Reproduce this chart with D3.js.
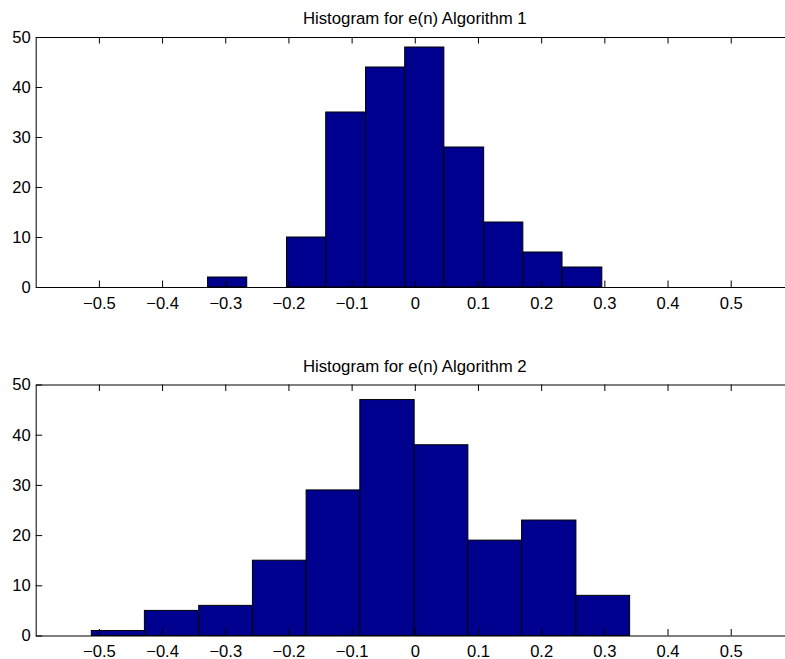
<!DOCTYPE html>
<html>
<head>
<meta charset="utf-8">
<script src="https://cdn.jsdelivr.net/npm/d3@7"></script>
<style>
  body { margin: 0; background: #fff; }
  svg { display: block; font-family: "Liberation Sans", Arial, Helvetica, sans-serif; }
  .tick line, .domain { stroke: #000; }
  .tick text { fill: #000; font-size: 16.6px; }
</style>
</head>
<body>
<svg width="785" height="659"></svg>
<script>
// bin edges and counts
const edges1 = [-0.328, -0.266, -0.203, -0.141, -0.078, -0.016, 0.046, 0.109, 0.171, 0.233, 0.296];
const counts1 = [2, 0, 10, 35, 44, 48, 28, 13, 7, 4];

const edges2 = [-0.512, -0.428, -0.342, -0.257, -0.172, -0.087, -0.001, 0.084, 0.169, 0.255, 0.340];
const counts2 = [1, 5, 6, 15, 29, 47, 38, 19, 23, 8];

const xTicks = [-0.5, -0.4, -0.3, -0.2, -0.1, 0, 0.1, 0.2, 0.3, 0.4, 0.5];
const yTicks = [0, 10, 20, 30, 40, 50];
const titles = ['Histogram for e(n) Algorithm 1', 'Histogram for e(n) Algorithm 2'];

const svg = d3.select('svg');

const left = 35.7, right = 793.9;
const x = d3.scaleLinear().domain([-0.6, 0.6]).range([left, right]);

const panels = [
    { edges: edges1, counts: counts1, top: 37, bottom: 287, title: titles[0] },
    { edges: edges2, counts: counts2, top: 384.5, bottom: 635.5, title: titles[1] }
];

panels.forEach(p => drawPanel(p));

function drawPanel(p) {
    const y = d3.scaleLinear().domain([0, 50]).range([p.bottom, p.top]);
    const g = svg.append('g');

    const bins = p.counts.map((c, i) => ({ x0: p.edges[i], x1: p.edges[i + 1], n: c }));

    g.selectAll('rect.bar')
        .data(bins)
        .join('rect')
        .attr('class', 'bar')
        .attr('x', d => x(d.x0))
        .attr('width', d => x(d.x1) - x(d.x0))
        .attr('y', d => y(d.n))
        .attr('height', d => y(0) - y(d.n))
        .attr('fill', '#00008f')
        .attr('stroke', '#000')
        .attr('stroke-width', 1);

    // box + ticks pointing inward
    g.append('g')
        .attr('transform', `translate(0,${p.bottom})`)
        .call(d3.axisBottom(x).tickValues(xTicks).tickFormat(d3.format(''))
            .tickSizeInner(-6.5).tickSizeOuter(0).tickPadding(10));
    g.append('g')
        .attr('transform', `translate(0,${p.top})`)
        .call(d3.axisTop(x).tickValues(xTicks).tickFormat('')
            .tickSizeInner(-6.5).tickSizeOuter(0));
    g.append('g')
        .attr('transform', `translate(${left},0)`)
        .call(d3.axisLeft(y).tickValues(yTicks)
            .tickSizeInner(-6.5).tickSizeOuter(0).tickPadding(5));
    g.append('g')
        .attr('transform', `translate(${right},0)`)
        .call(d3.axisRight(y).tickValues(yTicks).tickFormat('')
            .tickSizeInner(-6.5).tickSizeOuter(0));

    g.append('text')
        .attr('x', (left + right) / 2)
        .attr('y', p.top - 13)
        .attr('text-anchor', 'middle')
        .style('font-size', '16.8px')
        .text(p.title);
}
</script>
</body>
</html>
